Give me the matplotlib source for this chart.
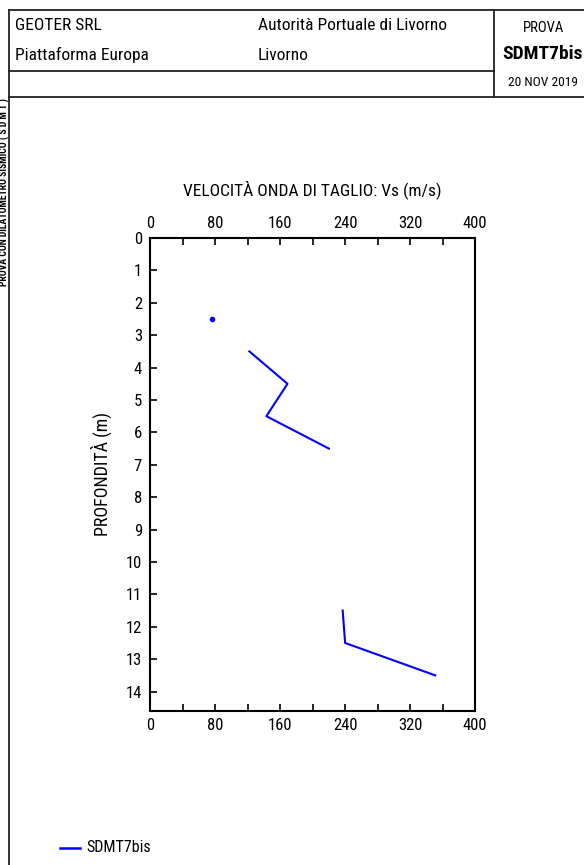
import numpy as np
import matplotlib
matplotlib.use("Agg")
import matplotlib.pyplot as plt
from matplotlib.lines import Line2D

plt.rcParams["font.family"] = ["Roboto Condensed", "Liberation Sans", "DejaVu Sans"]

# ------------------------------------------------------------
# Data
# ------------------------------------------------------------
TEST_ID = "SDMT7bis"
single_depth = [2.5]
single_vs = [76]
seg1_depth = [3.5, 4.5, 5.5, 6.5]
seg1_vs = [122, 169, 143, 220]
seg2_depth = [11.5, 12.5, 13.5]
seg2_vs = [237, 240, 351]

x_ticks = [0, 80, 160, 240, 320, 400]
y_ticks = list(range(0, 15))

W, H = 584, 865
fig = plt.figure(figsize=(W / 100, H / 100), dpi=100)


def fx(px):
    return px / W


def fy(py):
    return 1 - py / H


# ------------------------------------------------------------
# Header frame
# ------------------------------------------------------------
lc = "#222222"
frame = [
    ((8.5, 8.5), (10, 865)),
    ((8.5, 584), (10, 10)),
    ((8.5, 494), (71, 71)),
    ((8.5, 584), (97, 97)),
    ((494, 494), (10, 97)),
]
for xs, ys in frame:
    fig.add_artist(Line2D([fx(x) for x in xs], [fy(y) for y in ys],
                          color=lc, lw=1.3, transform=fig.transFigure))

hs = 12.5
fig.text(fx(15), fy(25), "GEOTER SRL", fontsize=hs, va="center", ha="left")
fig.text(fx(15), fy(55), "Piattaforma Europa", fontsize=hs, va="center", ha="left")
fig.text(fx(258), fy(25), "Autorità Portuale di Livorno", fontsize=hs, va="center", ha="left")
fig.text(fx(258), fy(55), "Livorno", fontsize=hs, va="center", ha="left")
fig.text(fx(543), fy(28), "PROVA", fontsize=10.5, va="center", ha="center")
fig.text(fx(542.5), fy(54), TEST_ID, fontsize=14, fontweight="bold",
         va="center", ha="center")
fig.text(fx(543), fy(82), "20 NOV 2019", fontsize=9.7, va="center", ha="center")

fig.text(fx(4.5), fy(192), "PROVA CON DILATOMETRO SISMICO ( S D M T )",
         fontsize=7, rotation=90, va="center", ha="center", fontweight="bold")

# ------------------------------------------------------------
# Plot
# ------------------------------------------------------------
ax = fig.add_axes([fx(150.3), fy(711), fx(475) - fx(150.3), fy(238) - fy(711)])

ax.plot(single_vs, single_depth, "o", color="blue", ms=3)
ax.plot(seg1_vs, seg1_depth, "-", color="blue", lw=1.5, label=TEST_ID)
ax.plot(seg2_vs, seg2_depth, "-", color="blue", lw=1.5)

ax.set_xlim(0, 400)
ax.set_ylim(14.6, 0)
ax.set_xticks(x_ticks)
ax.set_xticks(np.arange(0, 401, 40), minor=True)
ax.set_yticks(y_ticks)
ax.tick_params(axis="x", which="both", direction="in", top=True, bottom=True,
               labeltop=True, labelbottom=True, length=5, width=1.2,
               labelsize=12, pad=5)
ax.tick_params(axis="y", which="both", direction="in", left=True, right=False,
               length=5, width=1.2, labelsize=12, pad=6)
for s in ax.spines.values():
    s.set_linewidth(1.5)

ax.set_ylabel("PROFONDITÀ (m)", fontsize=13, labelpad=10)
fig.text(fx(312), fy(190), "VELOCITÀ ONDA DI TAGLIO: Vs (m/s)",
         fontsize=12.5, ha="center", va="center")

# Legend
fig.add_artist(Line2D([fx(60), fx(80)], [fy(848), fy(848)], color="blue",
                      lw=1.8, transform=fig.transFigure))
fig.text(fx(86), fy(848), TEST_ID, fontsize=11.5, va="center", ha="left")

fig.savefig("out.png", dpi=100)
